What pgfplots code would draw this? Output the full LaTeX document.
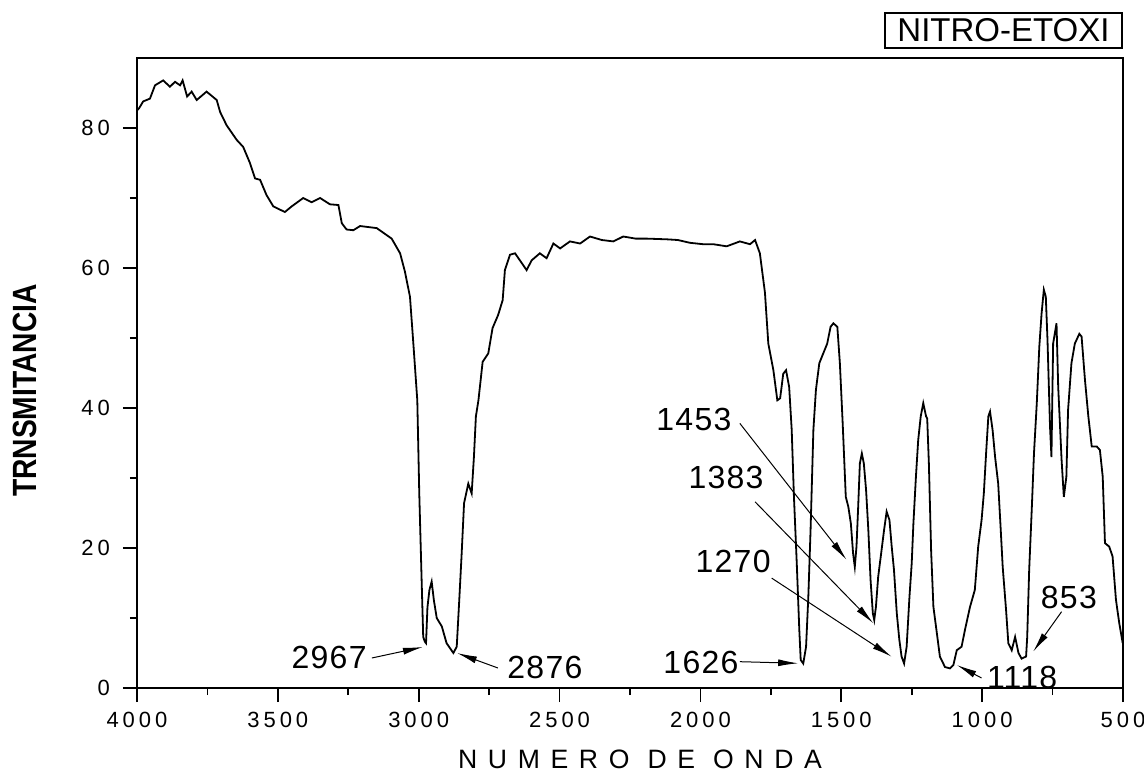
\documentclass[border=0pt]{standalone}
\usepackage{fontspec}
\setmainfont{Liberation Sans}
\newfontfamily\tickfont[LetterSpace=18]{Liberation Sans}
\newfontfamily\xlabfont[LetterSpace=40]{Liberation Sans}
\newfontfamily\annfont[LetterSpace=4]{Liberation Sans}
\usepackage{graphicx}
\usepackage{pgfplots}
\pgfplotsset{compat=1.18}
\usepackage{pgfplotstable}
\usetikzlibrary{arrows.meta}

\pgfplotstableread{
x y
4000 82.5
3993 82.8
3978 83.8
3954 84.2
3936 86.1
3907 86.8
3883 85.9
3865 86.6
3847 86.1
3838 86.8
3822 84.5
3806 85.2
3788 84.0
3753 85.2
3717 84.0
3705 82.3
3682 80.4
3646 78.3
3623 77.3
3599 75.0
3581 72.8
3563 72.6
3540 70.4
3516 68.8
3475 68.0
3451 68.8
3410 70.0
3380 69.4
3350 70.0
3315 69.1
3285 69.0
3273 66.4
3256 65.5
3232 65.4
3208 66.0
3149 65.7
3096 64.2
3066 62.1
3049 59.5
3031 55.9
3019 49.2
3005 41.1
2998 27.8
2989 14.5
2984 7.3
2978 6.6
2974 6.4
2969 11.5
2962 14.0
2954 15.2
2946 12.5
2936 10.0
2918 8.8
2901 6.4
2877 5.0
2865 5.9
2856 12.6
2848 18.8
2839 26.4
2824 29.2
2812 27.8
2804 33.0
2797 38.8
2788 41.1
2773 46.6
2753 47.8
2738 51.4
2718 53.3
2702 55.4
2694 59.7
2676 61.9
2658 62.1
2634 60.7
2617 59.7
2599 61.1
2570 62.1
2546 61.4
2522 63.5
2498 62.8
2463 63.8
2427 63.5
2392 64.5
2350 64.0
2309 63.8
2274 64.5
2230 64.2
2191 64.2
2120 64.1
2080 64.0
2037 63.6
1990 63.4
1954 63.4
1907 63.1
1880 63.5
1860 63.8
1824 63.4
1806 64.0
1789 62.1
1771 56.5
1759 49.2
1741 45.4
1727 41.1
1717 41.4
1706 44.9
1696 45.4
1685 43.0
1676 36.9
1668 27.3
1658 17.8
1649 8.3
1644 4.0
1635 3.5
1625 5.9
1617 13.0
1609 22.6
1599 36.9
1590 42.6
1578 46.4
1564 47.8
1550 49.2
1538 51.6
1528 52.1
1514 51.6
1505 46.4
1495 37.8
1484 27.3
1475 25.9
1466 23.5
1458 19.2
1452 17.3
1446 20.2
1440 25.9
1434 32.1
1427 33.5
1420 32.1
1412 28.3
1404 22.6
1396 15.4
1388 10.7
1383 9.7
1377 11.6
1369 15.9
1357 19.7
1348 22.6
1339 25.2
1329 24.0
1321 20.2
1313 16.9
1303 10.7
1294 6.9
1286 4.5
1277 3.5
1268 5.9
1258 13.0
1250 17.8
1244 23.5
1235 30.2
1227 35.4
1218 38.8
1209 40.7
1199 38.8
1195 38.5
1189 32.0
1181 19.5
1173 11.6
1159 7.3
1150 4.5
1132 3.0
1114 2.8
1102 3.3
1090 5.4
1073 5.9
1061 8.3
1043 11.6
1026 14.0
1014 20.2
1002 24.0
994 27.8
986 33.5
978 38.8
972 39.5
963 36.9
954 33.0
943 29.2
934 22.6
927 17.3
915 11.1
907 6.4
895 5.4
883 7.3
871 5.0
860 4.2
844 4.5
840 7.3
833 16.9
824 25.4
816 33.5
806 40.7
797 48.8
789 53.5
781 56.9
774 55.9
768 49.7
759 37.3
754 33.0
748 49.2
736 52.1
730 43.0
718 32.6
710 27.3
701 30.2
695 39.7
683 46.4
671 49.2
655 50.6
647 50.2
635 44.0
623 38.8
611 34.5
593 34.5
582 34.0
572 30.2
564 20.7
549 20.2
537 18.8
525 12.6
513 9.2
501 6.4
}\spectrum

\begin{document}
\begin{tikzpicture}
\path[use as bounding box] (-68.5pt,-42.5pt) rectangle (503.5pt,344pt);
\begin{axis}[
  scale only axis, width=493pt, height=315pt,
  at={(0,0)}, anchor=south west,
  x dir=reverse, xmin=500, xmax=4000, ymin=0, ymax=90,
  xtick={500,1000,...,4000}, minor x tick num=1,
  ytick={0,20,...,80}, minor y tick num=1,
  tick align=outside, xtick pos=bottom, ytick pos=left,
  major tick length=7pt, minor tick length=3.5pt,
  tick style={line width=0.9pt, black},
  axis line style={line width=1pt},
  ticklabel style={font=\tickfont\fontsize{11}{12}\selectfont},
  yticklabel style={xshift=-3pt},
  xticklabel style={yshift=-1.5pt},
  /pgf/number format/assume math mode=true,
  /pgf/number format/1000 sep={},
  clip=false,
]
\addplot[black, line width=0.9pt] table[x=x, y=y] {\spectrum};

\tikzset{ann/.style={font=\annfont\fontsize{16}{18}\selectfont, inner sep=0pt},
         arr/.style={line width=0.5pt, -{Latex[length=10pt,width=3.5pt]}}}
\node[ann] at (axis cs:3318,4.3) {2967};
\draw[arr] (axis cs:3166,4.29) -- (axis cs:2985,5.86);
\node[ann] at (axis cs:2552,3.0) {2876};
\draw[arr] (axis cs:2719,2.86) -- (axis cs:2864,5.0);
\node[ann] at (axis cs:1998,3.7) {1626};
\draw[arr] (axis cs:1860,3.76) -- (axis cs:1653,3.53);
\node[ann] at (axis cs:2023,38.3) {1453};
\draw[arr] (axis cs:1860,37.8) -- (axis cs:1481,18.3);
\node[ann] at (axis cs:1909,30.1) {1383};
\draw[arr] (axis cs:1806,26.6) -- (axis cs:1386,9.24);
\node[ann] at (axis cs:1884,18.1) {1270};
\draw[arr] (axis cs:1747,15.7) -- (axis cs:1321,4.47);
\node[ann] at (axis cs:858,1.5) {1118};
\draw[arr] (axis cs:1002,1.43) -- (axis cs:1090,3.29);
\node[ann] at (axis cs:692,12.9) {853};
\draw[arr] (axis cs:718,10.9) -- (axis cs:819,5.19);
\end{axis}
\node[font=\xlabfont\fontsize{13.3}{15}\selectfont] at (251.5pt,-35.75pt) {NUMERO DE ONDA};
\node[rotate=90, font=\fontsize{16.8}{18}\selectfont\bfseries] at (-56pt,148.75pt) {\scalebox{0.84}[1]{TRNSMITANCIA}};
\node[draw, line width=0.9pt, minimum width=118.5pt, minimum height=17.5pt, inner sep=0pt,
      font=\fontsize{16.5}{18}\selectfont] at (433.25pt,328.75pt) {NITRO-ETOXI};
\end{tikzpicture}
\end{document}
